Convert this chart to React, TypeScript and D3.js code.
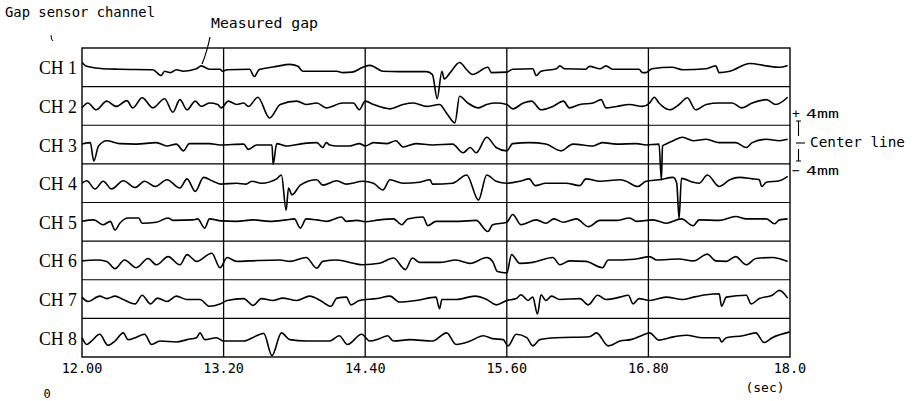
import * as d3 from 'd3';

// gap sensor channels (top to bottom)
const channels = ['CH 1', 'CH 2', 'CH 3', 'CH 4', 'CH 5', 'CH 6', 'CH 7', 'CH 8'];

// time axis (sec)
const tickValues = [12.0, 13.2, 14.4, 15.6, 16.8, 18.0];
const tickLabels = ['12.00', '13.20', '14.40', '15.60', '16.80', '18.0'];

// measured gap deviation from center line, [time sec, mm]
const ch1: [number, number][] = [
  [12.00, 1.0], [12.04, 0.2], [12.18, -0.3], [12.32, -0.4], [12.60, -0.5], [12.67, -1.7], [12.70, -0.8],
  [12.75, -1.1], [12.80, -0.5], [12.86, -0.8], [12.97, -0.3], [13.01, 0.3], [13.08, -0.4], [13.17, -0.4],
  [13.19, -0.8], [13.23, -0.5], [13.42, -0.4], [13.46, -1.9], [13.50, -0.5], [13.53, -0.3], [13.65, 0.2],
  [13.76, 0.6], [13.83, 0.2], [13.87, -0.8], [14.16, -0.8], [14.21, -1.1], [14.29, -1.0], [14.38, 0],
  [14.44, 0.4], [14.55, -0.8], [14.69, -0.9], [14.92, -0.9], [14.97, -1.5], [15.01, -6.5], [15.05, -0.8],
  [15.07, -2.4], [15.12, -1.1], [15.20, 1.0], [15.26, -0.5], [15.31, -1.5], [15.44, 0], [15.47, -1.1],
  [15.60, -1.0], [15.65, -0.4], [15.82, -0.3], [15.85, -1.7], [15.89, -0.8], [16.02, -0.3], [16.05, 0.3],
  [16.09, -0.3], [16.27, -0.4], [16.30, 0.2], [16.39, -0.3], [16.44, 0.3], [16.50, -0.4], [16.72, -0.4],
  [16.75, -1.1], [16.78, -1.1], [16.83, -0.3], [17.00, 0], [17.09, -0.5], [17.29, -0.3], [17.37, 0.3],
  [17.40, -1.1], [17.49, -0.8], [17.66, 0.8], [17.80, 0.3], [17.91, 0], [17.98, 0.4],
];
const ch2: [number, number][] = [
  [12.00, -0.4], [12.05, 0.6], [12.12, -0.8], [12.21, 1.0], [12.29, -0.1], [12.38, 1.1], [12.43, -0.4],
  [12.51, 1.7], [12.60, -0.4], [12.70, 1.5], [12.77, -1.3], [12.83, 1.3], [12.89, -0.8], [12.96, 1.0],
  [13.01, -0.1], [13.08, 0.6], [13.15, 0.3], [13.18, -0.4], [13.24, 1.0], [13.31, 0.3], [13.37, 0.6],
  [13.41, -0.1], [13.49, 1.8], [13.59, -2.5], [13.68, 0.3], [13.82, 1.0], [13.90, 0.3], [13.99, 0.6],
  [14.07, -0.4], [14.21, 0.6], [14.30, 0.6], [14.35, -0.8], [14.40, 1.0], [14.47, 0.3], [14.61, -0.6],
  [14.72, 0.3], [14.81, 0.6], [14.92, -0.1], [15.03, 0.3], [15.09, -1.5], [15.16, -3.5], [15.20, 2.0],
  [15.27, 0.6], [15.36, -0.4], [15.43, 0.3], [15.51, 0.6], [15.60, 0.3], [15.65, -0.6], [15.74, 0.6],
  [15.81, 1.0], [15.89, -0.8], [15.99, -0.1], [16.08, 1.0], [16.13, -0.4], [16.22, 0.3], [16.33, 0.6],
  [16.40, 1.3], [16.44, -0.4], [16.53, -0.1], [16.64, 0.3], [16.75, -0.1], [16.81, 0.6], [16.85, 1.8],
  [16.89, 0.6], [16.98, -0.8], [17.06, 0.3], [17.13, 1.7], [17.20, -0.8], [17.29, 0.3], [17.40, 0.6],
  [17.51, 0.6], [17.59, -0.4], [17.68, 0.6], [17.80, 1.3], [17.88, 0.3], [17.98, 1.8],
];
const ch3: [number, number][] = [
  [12.00, 0.1], [12.07, 0.4], [12.10, -3.4], [12.14, -0.3], [12.21, 0.8], [12.32, 0.2], [12.46, 0.1],
  [12.63, 0.4], [12.72, -0.3], [12.80, 0.1], [12.86, -1.3], [12.91, 0.2], [13.08, 0.2], [13.17, -0.1],
  [13.37, 0.1], [13.41, -1.0], [13.48, -0.1], [13.61, -0.1], [13.62, -4.1], [13.65, 0.2], [13.73, -0.3],
  [13.87, 0.2], [13.99, 0.4], [14.04, -0.6], [14.07, 0.4], [14.10, -0.1], [14.16, -0.3], [14.27, -0.3],
  [14.35, 0.2], [14.40, -0.3], [14.47, 0.4], [14.58, 0.2], [14.66, 0.8], [14.72, -0.5], [14.83, 0.2],
  [14.97, -0.1], [15.14, 0.1], [15.23, -1.7], [15.29, -0.6], [15.34, -1.7], [15.43, 1.5], [15.51, -0.6],
  [15.60, -1.3], [15.65, 0.2], [15.79, 0.4], [15.93, 0.1], [16.06, -1.3], [16.16, 0.1], [16.33, -0.3],
  [16.41, 0.4], [16.53, 0.1], [16.70, 0.2], [16.78, -0.1], [16.89, 0.1], [16.91, -7.3], [16.92, -0.3],
  [16.95, 0.1], [17.01, 0.8], [17.09, 1.5], [17.18, 0.8], [17.29, 1.1], [17.40, 0.4], [17.54, 0.4],
  [17.63, -0.6], [17.68, 0.4], [17.80, 1.1], [17.91, 0.8], [17.98, 1.1],
];
const ch4: [number, number][] = [
  [12.00, 0], [12.04, 0.5], [12.11, -1.2], [12.18, 0.4], [12.25, -1.2], [12.35, 0.5], [12.45, -0.9],
  [12.53, 0.4], [12.62, -0.7], [12.72, 0.7], [12.83, -1.0], [12.89, 0.9], [12.96, -1.7], [13.03, 1.2],
  [13.11, 0.4], [13.18, -0.2], [13.31, 0], [13.39, -0.2], [13.44, 0.4], [13.52, 0], [13.65, 0.9],
  [13.69, 1.7], [13.73, -5.6], [13.75, -1.0], [13.78, -2.4], [13.85, -0.4], [13.99, 0.7], [14.04, -0.4],
  [14.16, 0.5], [14.24, -0.2], [14.38, 0.4], [14.47, 0], [14.55, -1.4], [14.61, 0.7], [14.72, 0],
  [14.86, 0.2], [14.95, 0.7], [14.97, -0.2], [15.14, 0], [15.26, 1.7], [15.36, -3.5], [15.43, 1.7],
  [15.51, 0.4], [15.60, 0], [15.71, 0.4], [15.79, 0.9], [15.84, -0.5], [15.93, 0], [16.10, 0],
  [16.22, -0.5], [16.27, 0.9], [16.39, 0.4], [16.56, 0.7], [16.61, 0.4], [16.71, -0.7], [16.78, 0.4],
  [16.89, 0.7], [17.01, 1.2], [17.04, 0], [17.06, -7.3], [17.08, 1.0], [17.18, 0.2], [17.23, 0],
  [17.30, 1.7], [17.40, -0.7], [17.49, 0.7], [17.57, 1.2], [17.68, 0.9], [17.74, 0.7], [17.76, -0.7],
  [17.80, 0.2], [17.91, 0.5], [17.98, 1.4],
];
const ch5: [number, number][] = [
  [12.00, 0.1], [12.10, 0.4], [12.18, -0.6], [12.24, 0.1], [12.28, -1.7], [12.32, -0.3], [12.39, 0.8],
  [12.48, 0.8], [12.51, -0.3], [12.63, -0.1], [12.73, 0.8], [12.77, 0.3], [12.94, 0.4], [12.98, 0.6],
  [13.04, -1.3], [13.08, 0.6], [13.18, 0.2], [13.31, 0.1], [13.45, 0.4], [13.59, 0.1], [13.73, 0.4],
  [13.80, 0.6], [13.85, -1.3], [13.90, 0.6], [13.99, 0.4], [14.07, 0.1], [14.20, 1.0], [14.24, 0.1],
  [14.33, 0.3], [14.40, 0], [14.52, 0.4], [14.64, 0.6], [14.71, -0.6], [14.76, 0.6], [14.89, 1.0],
  [14.93, -0.8], [15.00, 0.1], [15.20, 0.1], [15.34, 0.3], [15.44, -2.0], [15.48, -0.6], [15.60, -0.1],
  [15.65, 1.5], [15.72, -0.6], [15.85, 0.4], [15.93, -0.3], [16.00, 0.6], [16.08, -0.1], [16.19, 0.6],
  [16.29, -1.0], [16.39, 0.3], [16.53, 0.3], [16.64, 0.8], [16.70, 0.1], [16.84, 0.4], [16.95, -0.3],
  [17.08, 0.6], [17.18, -0.8], [17.23, 0.4], [17.40, 0.3], [17.54, 1.1], [17.63, 0.6], [17.80, 0.6],
  [17.87, -0.4], [17.91, 0.4], [17.98, 0.6],
];
const ch6: [number, number][] = [
  [12.00, -0.1], [12.12, 0.1], [12.21, -0.2], [12.28, -1.7], [12.36, 0.1], [12.46, -1.5], [12.56, 0.4],
  [12.63, -0.9], [12.73, 0.8], [12.83, -0.9], [12.89, 1.2], [12.97, -0.2], [13.10, 1.5], [13.17, -1.5],
  [13.23, 0.6], [13.31, -0.2], [13.42, -0.1], [13.68, 0.1], [13.76, -0.2], [13.90, 0.6], [13.99, -1.6],
  [14.04, -0.2], [14.16, 0.1], [14.30, -0.6], [14.38, -0.9], [14.52, -0.6], [14.64, 0.5], [14.74, -1.9],
  [14.80, 0.5], [14.86, -0.4], [15.03, -0.4], [15.17, 0.1], [15.29, -0.6], [15.43, 0.6], [15.48, -0.2],
  [15.52, -2.3], [15.60, -2.6], [15.64, 1.2], [15.71, -0.6], [15.82, -0.4], [15.99, 0.6], [16.05, -0.9],
  [16.13, -0.1], [16.27, -0.2], [16.41, -1.5], [16.46, 0.1], [16.58, 0.1], [16.72, 0.4], [16.81, 0.8],
  [16.87, 0.1], [17.06, 0.3], [17.18, -0.1], [17.30, 1.3], [17.37, -0.1], [17.46, -0.2], [17.54, 0.8],
  [17.63, -0.9], [17.71, 0.4], [17.85, 0.6], [17.98, -0.2],
];
const ch7: [number, number][] = [
  [12.00, 0.4], [12.05, -0.5], [12.15, 0.6], [12.21, 0.1], [12.28, 0.6], [12.35, -0.1], [12.45, -1.0],
  [12.51, 0.8], [12.58, -1.0], [12.64, 0.2], [12.72, -0.5], [12.80, 0.6], [12.89, -0.1], [13.00, -0.1],
  [13.08, -1.5], [13.17, -1.0], [13.23, -0.3], [13.37, 0.1], [13.45, -1.3], [13.52, 0.1], [13.62, -0.3],
  [13.70, 0.2], [13.82, -0.3], [13.93, 0.6], [14.02, -0.3], [14.11, -1.5], [14.16, 0.2], [14.24, 0.4],
  [14.28, -1.2], [14.35, -0.3], [14.50, 0.1], [14.61, 0.6], [14.69, -0.6], [14.83, -0.3], [15.00, 0.4],
  [15.03, -2.0], [15.05, -0.1], [15.17, -0.1], [15.33, 0.6], [15.43, -0.1], [15.51, -1.2], [15.60, -0.3],
  [15.68, 0.1], [15.72, 0.9], [15.78, -0.3], [15.82, 0.4], [15.86, -3.1], [15.89, 0.9], [15.93, -0.3],
  [15.98, 0.6], [16.05, -0.1], [16.22, 0.1], [16.29, -1.2], [16.37, 0.8], [16.44, -0.1], [16.56, 0.4],
  [16.63, 0.8], [16.67, -1.0], [16.72, 0.1], [16.81, -0.3], [16.95, 0.4], [17.09, -0.1], [17.18, 0.4],
  [17.29, 0.9], [17.40, 1.1], [17.42, -1.5], [17.46, 0.4], [17.63, 0.8], [17.67, -1.0], [17.74, 0.1],
  [17.85, 0.8], [17.91, 1.8], [17.98, 0.2],
];
const ch8: [number, number][] = [
  [12.00, 0], [12.04, -1.4], [12.08, -0.7], [12.15, 0.7], [12.22, -1.6], [12.28, -0.7], [12.35, 1.0],
  [12.39, -0.4], [12.45, 0], [12.53, 0.7], [12.59, -1.4], [12.66, -0.7], [12.80, -0.9], [12.89, -0.4],
  [12.97, 0], [13.00, 1.0], [13.04, -0.4], [13.14, 0], [13.20, -0.7], [13.37, -0.7], [13.48, 0.4],
  [13.54, 0.9], [13.61, -3.7], [13.69, 1.0], [13.76, -0.4], [13.90, -0.7], [14.10, -0.7], [14.18, 0.4],
  [14.25, -1.4], [14.37, 0.7], [14.44, -0.7], [14.52, -0.2], [14.59, 0.4], [14.64, -0.7], [14.78, -0.4],
  [14.97, -0.7], [15.09, 1.0], [15.17, -1.4], [15.29, -0.7], [15.40, 0.4], [15.48, -0.2], [15.57, -0.4],
  [15.61, -1.7], [15.68, 0.7], [15.77, 0], [15.82, -1.7], [15.88, -0.4], [16.02, 0], [16.30, 0.2],
  [16.36, 1.0], [16.46, -1.7], [16.56, -0.7], [16.65, -0.4], [16.75, 0.5], [16.81, 1.0], [16.89, -0.5],
  [16.98, 0], [17.12, 0.5], [17.26, 0], [17.40, 0], [17.42, -0.9], [17.46, 0], [17.60, 0.4],
  [17.71, 1.0], [17.78, -1.0], [17.85, 0], [18.00, 1.2],
];

const series = [ch1, ch2, ch3, ch4, ch5, ch6, ch7, ch8];

const mono = '"DejaVu Sans Mono", monospace';
const serif = '"Liberation Serif", serif';

export default function App() {
  const width = 915;
  const height = 401;

  const x = d3.scaleLinear().domain([12, 18]).range([82, 790]);
  const band = d3.scaleBand<string>().domain(channels).range([48, 357]);
  const bw = band.bandwidth();
  // each band spans +4mm .. -4mm
  const y = d3.scaleLinear().domain([-4, 4]).range([bw, 0]);

  const line = d3
    .line<[number, number]>()
    .x((d) => x(d[0]))
    .y((d) => y(d[1]))
    .curve(d3.curveMonotoneX);

  const top = band.range()[0];
  const bottom = band.range()[1];

  return (
    <svg
      width={width}
      height={height}
      style={{ position: 'absolute', left: 0, top: 0, background: '#fff' }}
    >
      {/* header labels */}
      <text x={5} y={17} fontFamily={mono} fontSize={14} textLength={150} lengthAdjust="spacingAndGlyphs">
        Gap sensor channel
      </text>
      <path d="M51,35 Q51,40 53,41" fill="none" stroke="#000" strokeWidth={1} />
      <text x={211} y={28} fontFamily={mono} fontSize={14} textLength={107} lengthAdjust="spacingAndGlyphs">
        Measured gap
      </text>
      <path d="M210,37 Q207,52 202,64" fill="none" stroke="#000" strokeWidth={1.2} />

      {/* band separator lines */}
      {channels.slice(1).map((c) => (
        <line key={c} x1={x(12)} x2={x(18)} y1={band(c)} y2={band(c)} stroke="#000" strokeWidth={1.2} />
      ))}

      {/* vertical time grid */}
      {tickValues.slice(1, -1).map((t) => (
        <line key={t} x1={x(t)} x2={x(t)} y1={top} y2={bottom} stroke="#000" strokeWidth={1.3} />
      ))}

      {/* frame */}
      <rect x={x(12)} y={top} width={x(18) - x(12)} height={bottom - top} fill="none" stroke="#000" strokeWidth={1.4} />

      {/* traces */}
      {channels.map((c, i) => (
        <g key={c} transform={`translate(0,${band(c)})`}>
          <path d={line(series[i]) ?? ''} fill="none" stroke="#000" strokeWidth={1.6} strokeLinejoin="round" />
        </g>
      ))}

      {/* channel labels */}
      {channels.map((c) => (
        <text
          key={c}
          x={39}
          y={(band(c) ?? 0) + bw / 2 + 7}
          fontFamily={serif}
          fontSize={18}
          textLength={38}
          lengthAdjust="spacingAndGlyphs"
        >
          {c}
        </text>
      ))}

      {/* time axis labels */}
      {tickValues.map((t, i) => (
        <text key={t} x={x(t)} y={373} textAnchor="middle" fontFamily={mono} fontSize={13.5}>
          {tickLabels[i]}
        </text>
      ))}
      <text x={765} y={392} textAnchor="middle" fontFamily={mono} fontSize={13}>
        (sec)
      </text>
      <text x={47} y={398} textAnchor="middle" fontFamily={mono} fontSize={12}>
        0
      </text>

      {/* scale annotation */}
      <g fontFamily={mono} fontSize={13}>
        <text x={792} y={118}>+</text>
        <text x={806} y={118} textLength={33} lengthAdjust="spacingAndGlyphs">4mm</text>
        <text x={792} y={175}>−</text>
        <text x={806} y={175} textLength={33} lengthAdjust="spacingAndGlyphs">4mm</text>
      </g>
      <text x={810} y={147} fontFamily={mono} fontSize={14} textLength={95} lengthAdjust="spacingAndGlyphs">
        Center line
      </text>
      <g stroke="#000" strokeWidth={1.1} fill="none">
        <path d="M796,121 H801 M798.5,121 V136" />
        <path d="M796,143 H805" />
        <path d="M798.5,149 V161 M796,161 H801" />
      </g>
    </svg>
  );
}
